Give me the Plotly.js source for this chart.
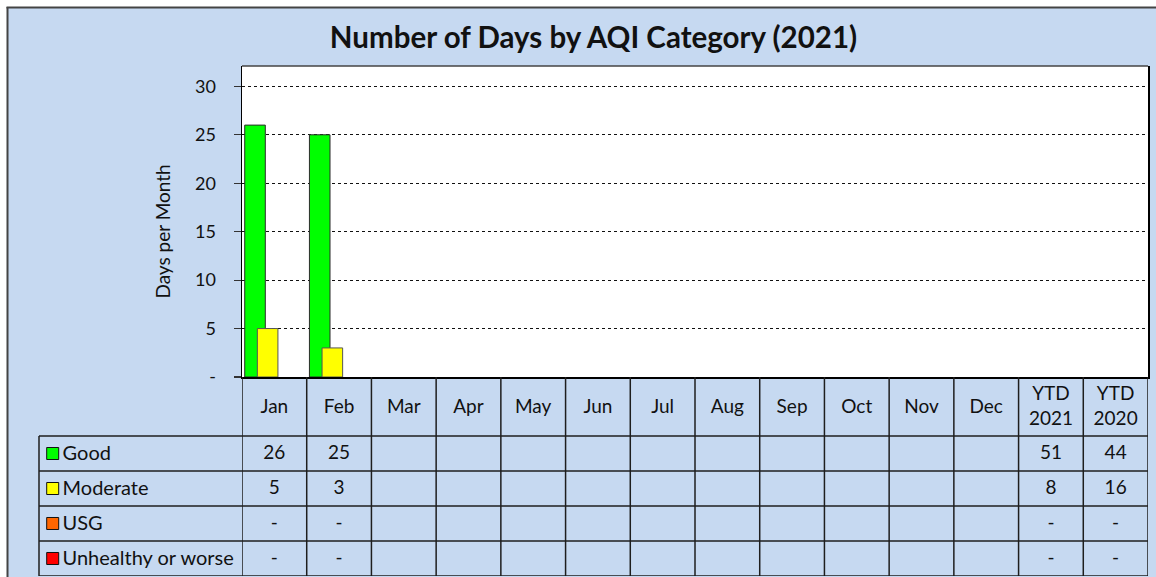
<!DOCTYPE html>
<html>
<head>
<meta charset="utf-8">
<script src="https://cdn.plot.ly/plotly-3.0.1.min.js"></script>
<style>html,body{margin:0;padding:0;background:#fff;}#chart{width:1156px;height:577px;}</style>
</head>
<body>
<div id="chart"></div>
<script>
// ---- data ----
const categories = ['Jan','Feb','Mar','Apr','May','Jun','Jul','Aug','Sep','Oct','Nov','Dec','YTD<br>2021','YTD<br>2020'];
const goodBars = [26,25,null,null,null,null,null,null,null,null,null,null,null,null];
const moderateBars = [5,3,null,null,null,null,null,null,null,null,null,null,null,null];
const seriesNames = ['Good','Moderate','USG','Unhealthy or worse'];
const seriesColors = ['#00FF00','#FFFF00','#FF6600','#FF0000'];
const tableGood = ['26','25','','','','','','','','','','','51','44'];
const tableModerate = ['5','3','','','','','','','','','','','8','16'];
const tableUSG = ['-','-','','','','','','','','','','','-','-'];
const tableUnhealthy = ['-','-','','','','','','','','','','','-','-'];
const yTickVals = [0,5,10,15,20,25,30];
const yTickText = ['-','5','10','15','20','25','30'];

const FONT = 'Lato, Carlito, Calibri, sans-serif';
const BLUE = '#C6D9F1';
const TS = 19;
const tableRows = [tableGood, tableModerate, tableUSG, tableUnhealthy];
const idx = categories.map((c,i)=>i);

const traces = [];
traces.push({type:'bar', x:idx, y:goodBars, xaxis:'x', yaxis:'y', name:'Good',
  marker:{color:seriesColors[0], line:{color:'#2b2b2b', width:1}},
  offset:-0.458, width:0.318, hoverinfo:'skip'});
traces.push({type:'bar', x:idx, y:moderateBars, xaxis:'x', yaxis:'y', name:'Moderate',
  marker:{color:seriesColors[1], line:{color:'#555', width:1}},
  offset:-0.263, width:0.318, hoverinfo:'skip'});

// header row text
traces.push({type:'scatter', mode:'text', x:idx, y:categories.map(()=>0.8), text:categories,
  xaxis:'x', yaxis:'y2', textfont:{family:FONT, size:TS, color:'#111'}, cliponaxis:false, hoverinfo:'skip'});
// cell texts
tableRows.forEach((row,r)=>{
  traces.push({type:'scatter', mode:'text', x:idx, y:row.map(()=>-0.53-r), text:row,
    xaxis:'x', yaxis:'y2', textfont:{family:FONT, size:TS, color:'#111'}, cliponaxis:false, hoverinfo:'skip'});
});
// legend keys and labels
traces.push({type:'scatter', mode:'markers', x:seriesNames.map(()=>0.0675), y:seriesNames.map((s,r)=>-0.5-r),
  xaxis:'x2', yaxis:'y2', marker:{symbol:'square', size:12, color:seriesColors, line:{color:'#111', width:1}},
  cliponaxis:false, hoverinfo:'skip'});
traces.push({type:'scatter', mode:'text', x:seriesNames.map(()=>0.116), y:seriesNames.map((s,r)=>-0.53-r), text:seriesNames,
  textposition:'middle right', xaxis:'x2', yaxis:'y2', textfont:{family:FONT, size:20, color:'#111'},
  cliponaxis:false, hoverinfo:'skip'});

// shapes
const shapes = [];
const LC = '#1e1e1e';
// white plot area
shapes.push({type:'rect', layer:'below', xref:'paper', yref:'paper', x0:0.18305, x1:1, y0:0.3902, y1:1, fillcolor:'#FFFFFF', line:{width:0}});
for (let k=0;k<=categories.length;k++){
  shapes.push({type:'line', xref:'x', yref:'y2', x0:k-0.5, x1:k-0.5, y0:-4, y1:1.686, line:{color:LC, width:1.5}});
}
for (let r=0;r<=4;r++){
  shapes.push({type:'line', xref:'paper', yref:'y2', x0:0, x1:1, y0:-r, y1:-r, line:{color:LC, width:1.5}});
}
shapes.push({type:'line', xref:'paper', yref:'y2', x0:0, x1:0, y0:-4, y1:0, line:{color:LC, width:1.5}});
// plot-area top border
shapes.push({type:'line', xref:'paper', yref:'paper', x0:0.18305, x1:1, y0:1, y1:1, line:{color:'#444', width:1.5}});
// white surround and outer frame
shapes.push({type:'rect', xref:'paper', yref:'paper', x0:-0.05, x1:-0.0289, y0:-0.1, y1:1.2, fillcolor:'#fff', line:{width:0}});
shapes.push({type:'rect', xref:'paper', yref:'paper', x0:-0.05, x1:1.1, y0:1.1157, y1:1.2, fillcolor:'#fff', line:{width:0}});
shapes.push({type:'line', xref:'paper', yref:'paper', x0:-0.0284, x1:-0.0284, y0:-0.1, y1:1.1157, line:{color:'#444', width:2}});
shapes.push({type:'line', xref:'paper', yref:'paper', x0:-0.0293, x1:1.1, y0:1.1147, y1:1.1147, line:{color:'#444', width:2}});

const layout = {
  width:1156, height:577,
  margin:{l:39, r:8, t:66, b:1, pad:0},
  paper_bgcolor:BLUE, plot_bgcolor:BLUE,
  showlegend:false, barmode:'overlay',
  font:{family:FONT, color:'#111'},
  title:{text:'<b>Number of Days by AQI Category (2021)</b>', font:{family:FONT, size:29.5, color:'#111'},
    xref:'paper', x:0.5, xanchor:'center', yref:'container', y:0.935, yanchor:'middle'},
  xaxis:{domain:[0.18305,1], anchor:'y', type:'linear', range:[-0.5,13.5], showticklabels:false, showgrid:false,
    zeroline:false, showline:true, linecolor:'#000', linewidth:2, ticks:'', fixedrange:true},
  yaxis:{domain:[0.3902,1], anchor:'x', range:[0,32.1], tickvals:yTickVals, ticktext:yTickText,
    ticks:'outside', ticklen:7, tickcolor:'#333', tickwidth:1.2, ticklabelstandoff:14,
    tickfont:{family:FONT, size:18, color:'#111'},
    showgrid:true, gridcolor:'#111', griddash:'dot', gridwidth:1, zeroline:false,
    showline:true, linecolor:'#000', linewidth:1.5, mirror:true, fixedrange:true},
  xaxis2:{domain:[0,0.18305], anchor:'y2', range:[0,1], visible:false, fixedrange:true},
  yaxis2:{domain:[0,0.3902], anchor:'x', range:[-4,1.686], visible:false, fixedrange:true},
  shapes:shapes,
  annotations:[{text:'Days per Month', xref:'paper', yref:'paper', x:0.1105, y:0.6745, textangle:-90,
    showarrow:false, xanchor:'center', yanchor:'middle', font:{family:FONT, size:19, color:'#111'}}]
};

Plotly.newPlot('chart', traces, layout, {displayModeBar:false, staticPlot:true});
</script>
</body>
</html>
